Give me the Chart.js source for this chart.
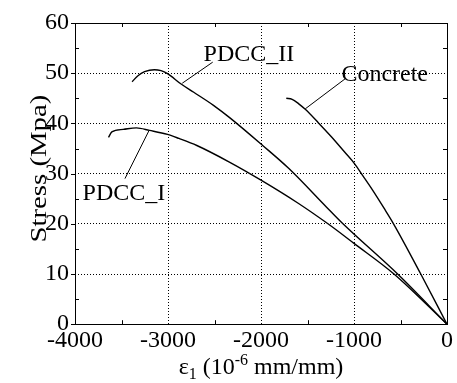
<!DOCTYPE html>
<html>
<head>
<meta charset="utf-8">
<script src="https://cdn.jsdelivr.net/npm/chart.js@4.4.1/dist/chart.umd.min.js"></script>
<style>
  html, body { margin: 0; padding: 0; background: #fff; }
  canvas { display: block; }
</style>
</head>
<body>
<canvas id="stressChart" width="457" height="383"></canvas>
<script>
// strain (1e-6 mm/mm) and stress (MPa)
const pdcc1Strain = [-3640, -3604, -3481, -3340, -3199, -3005, -2882, -2690, -2340, -2000, -1600, -1280, -1000, -570, 0];
const pdcc1Stress = [37.2, 38.3, 38.8, 39.1, 38.6, 37.8, 37.0, 35.6, 32.3, 28.7, 24.1, 20.0, 16.1, 10.0, 0];

const pdcc2Strain = [-3386, -3323, -3252, -3146, -3075, -3005, -2863, -2723, -2511, -2334, -1982, -1700, -1300, -1130, -520, 0];
const pdcc2Stress = [48.3, 49.5, 50.3, 50.7, 50.5, 49.9, 47.9, 46.2, 43.6, 41.1, 35.6, 31.0, 23.4, 20.2, 9.8, 0];

const concStrain = [-1728, -1665, -1594, -1524, -1382, -1241, -1101, -995, -906, -800, -677, -578, -282, 0];
const concStress = [45.0, 44.8, 43.9, 42.8, 40.1, 37.3, 34.3, 32.0, 29.6, 26.7, 23.1, 20.1, 10.0, 0];

const xTicks = [-4000, -3000, -2000, -1000, 0];
const yTicks = [0, 10, 20, 30, 40, 50, 60];
const xMinor = [-3500, -2500, -1500, -500];
const yMinor = [5, 15, 25, 35, 45, 55];

// curve labels: text position and leader line, in data units
const curveLabels = [
    { text: 'PDCC_II', at: [-2130, 52.4], from: [-2519, 52.2], to: [-2847, 48.0] },
    { text: 'Concrete', at: [-670, 48.5], from: [-1094, 48.9], to: [-1524, 42.9] },
    { text: 'PDCC_I', at: [-3474, 24.7], from: [-3463, 29.0], to: [-3206, 38.5] }
];

const serif = "'Liberation Serif', 'Times New Roman', Times, serif";

function pairs(xs, ys) {
    return xs.map((x, i) => ({ x: x, y: ys[i] }));
}

const framePlugin = {
    id: 'frame',
    afterDraw(chart) {
        const ctx = chart.ctx;
        const area = chart.chartArea;
        const xs = chart.scales.x;
        const ys = chart.scales.y;
        ctx.save();
        ctx.strokeStyle = '#000';
        ctx.lineWidth = 1;
        ctx.setLineDash([]);
        ctx.strokeRect(Math.round(area.left) + 0.5, Math.round(area.top) + 0.5,
            Math.round(area.right - area.left), Math.round(area.bottom - area.top));

        ctx.beginPath();
        xMinor.forEach(v => {
            const px = Math.round(xs.getPixelForValue(v)) + 0.5;
            ctx.moveTo(px, area.bottom); ctx.lineTo(px, area.bottom - 4);
            ctx.moveTo(px, area.top); ctx.lineTo(px, area.top + 4);
        });
        yMinor.forEach(v => {
            const py = Math.round(ys.getPixelForValue(v)) + 0.5;
            ctx.moveTo(area.left, py); ctx.lineTo(area.left + 4, py);
            ctx.moveTo(area.right, py); ctx.lineTo(area.right - 4, py);
        });
        yTicks.forEach(v => {
            const py = Math.round(ys.getPixelForValue(v)) + 0.5;
            ctx.moveTo(area.left - 4, py); ctx.lineTo(area.left, py);
        });
        ctx.stroke();

        // curve labels with leader lines
        ctx.fillStyle = '#000';
        ctx.font = '24px ' + serif;
        ctx.textAlign = 'center';
        ctx.textBaseline = 'alphabetic';
        curveLabels.forEach(l => {
            ctx.fillText(l.text, xs.getPixelForValue(l.at[0]), ys.getPixelForValue(l.at[1]));
            ctx.beginPath();
            ctx.moveTo(xs.getPixelForValue(l.from[0]), ys.getPixelForValue(l.from[1]));
            ctx.lineTo(xs.getPixelForValue(l.to[0]), ys.getPixelForValue(l.to[1]));
            ctx.stroke();
        });

        // y axis title (a bit stretched along its length, like the original)
        ctx.save();
        ctx.translate(area.left - 35, (area.top + area.bottom) / 2 - 5);
        ctx.rotate(-Math.PI / 2);
        ctx.scale(1.2, 1);
        ctx.font = '24px ' + serif;
        ctx.textBaseline = 'middle';
        ctx.fillText('Stress (Mpa)', 0, 0);
        ctx.restore();

        // x axis title with sub- and superscript
        const parts = [
            { t: 'ε', size: 24, dy: 0 },
            { t: '1', size: 16, dy: 5 },
            { t: ' (10', size: 24, dy: 0 },
            { t: '-6', size: 16, dy: -9 },
            { t: ' mm/mm)', size: 24, dy: 0 }
        ];
        let total = 0;
        parts.forEach(p => { ctx.font = p.size + 'px ' + serif; p.w = ctx.measureText(p.t).width; total += p.w; });
        let cx = (area.left + area.right) / 2 - total / 2;
        const base = area.bottom + 50;
        ctx.textAlign = 'left';
        parts.forEach(p => {
            ctx.font = p.size + 'px ' + serif;
            ctx.fillText(p.t, cx, base + p.dy);
            cx += p.w;
        });
        ctx.restore();
    }
};

const lineStyle = {
    borderColor: '#000',
    borderWidth: 1.4,
    pointRadius: 0,
    fill: false,
    cubicInterpolationMode: 'monotone'
};

new Chart(document.getElementById('stressChart').getContext('2d'), {
    type: 'line',
    data: {
        datasets: [
            Object.assign({ label: 'PDCC_I', data: pairs(pdcc1Strain, pdcc1Stress) }, lineStyle),
            Object.assign({ label: 'PDCC_II', data: pairs(pdcc2Strain, pdcc2Stress) }, lineStyle),
            Object.assign({ label: 'Concrete', data: pairs(concStrain, concStress) }, lineStyle)
        ]
    },
    options: {
        responsive: false,
        animation: false,
        layout: { padding: { left: 39, right: 10, top: 23, bottom: 26 } },
        plugins: { legend: { display: false }, tooltip: { enabled: false } },
        scales: {
            x: {
                type: 'linear',
                min: -4000,
                max: 0,
                afterBuildTicks: s => { s.ticks = xTicks.map(v => ({ value: v })); },
                ticks: {
                    callback: v => String(v),
                    color: '#000',
                    font: { family: serif, size: 24 },
                    padding: 2,
                    maxRotation: 0
                },
                grid: { color: '#000', lineWidth: 1, drawTicks: false },
                border: { display: false, dash: [1, 2] }
            },
            y: {
                min: 0,
                max: 60,
                afterBuildTicks: s => { s.ticks = yTicks.map(v => ({ value: v })); },
                ticks: {
                    callback: v => String(v),
                    color: '#000',
                    font: { family: serif, size: 24 },
                    padding: 6
                },
                grid: { color: '#000', lineWidth: 1, drawTicks: false },
                border: { display: false, dash: [1, 2] }
            }
        }
    },
    plugins: [framePlugin]
});
</script>
</body>
</html>
